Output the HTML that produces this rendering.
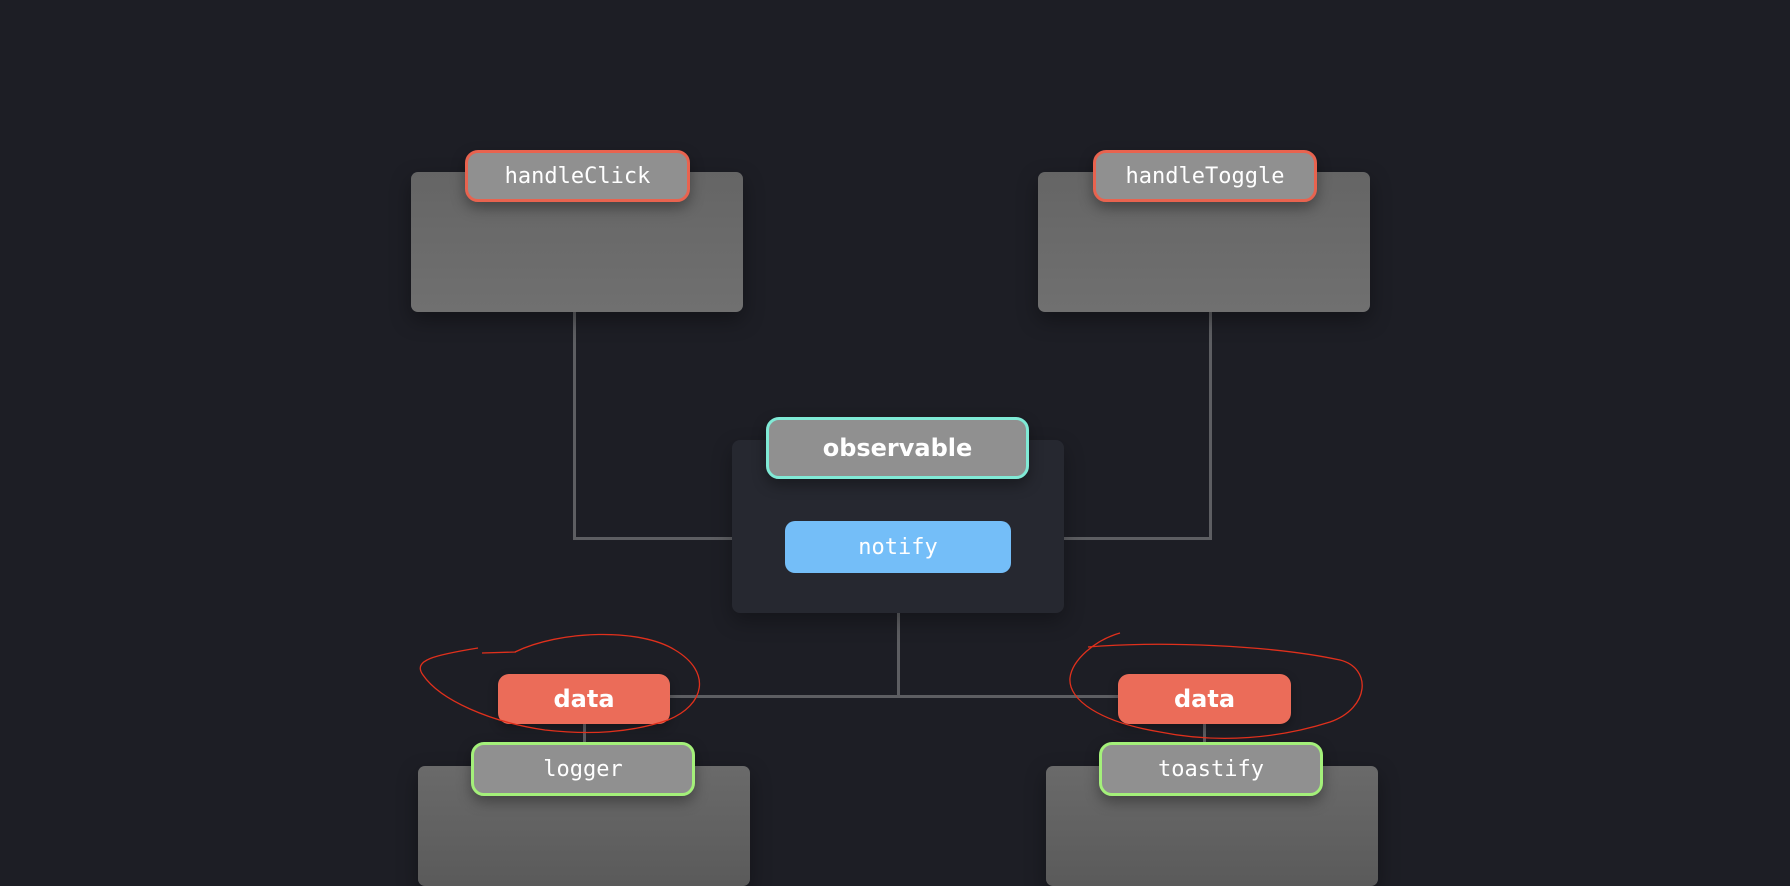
<!DOCTYPE html>
<html><head><style>
html,body{margin:0;padding:0;width:1790px;height:874px;overflow:hidden;background:#1d1e25;font-family:"Liberation Sans",sans-serif}
.a{position:absolute;box-sizing:border-box}
.box{background:linear-gradient(#656565,#707070);border-radius:7px;box-shadow:0 8px 20px rgba(0,0,0,.35)}
.pill{background:#909090;border-radius:13px;border:3px solid;display:flex;align-items:center;justify-content:center;color:#fff;font-family:"DejaVu Sans Mono","Liberation Mono",monospace;font-size:22px;box-shadow:0 6px 14px rgba(0,0,0,.35)}
.ln{background:#5d5e62}
.data{background:#eb6c59;border-radius:11px;display:flex;align-items:center;justify-content:center;color:#fff;font-family:"DejaVu Sans",sans-serif;font-weight:bold;font-size:24px;box-shadow:0 4px 10px rgba(0,0,0,.3)}
</style></head><body>
<div class="a ln" style="left:573px;top:312px;width:3px;height:228px"></div>
<div class="a ln" style="left:573px;top:537px;width:162px;height:3px"></div>
<div class="a ln" style="left:1209px;top:312px;width:3px;height:228px"></div>
<div class="a ln" style="left:1060px;top:537px;width:152px;height:3px"></div>
<div class="a ln" style="left:897px;top:610px;width:3px;height:87px"></div>
<div class="a ln" style="left:668px;top:695px;width:452px;height:3px"></div>
<div class="a ln" style="left:583px;top:722px;width:3px;height:22px"></div>
<div class="a ln" style="left:1203px;top:722px;width:3px;height:22px"></div>

<div class="a box" style="left:411px;top:172px;width:332px;height:140px"></div>
<div class="a box" style="left:1038px;top:172px;width:332px;height:140px"></div>
<div class="a box" style="left:418px;top:766px;width:332px;height:120px;background:linear-gradient(#6a6a6a,#5a5a5a)"></div>
<div class="a box" style="left:1046px;top:766px;width:332px;height:120px;background:linear-gradient(#6a6a6a,#5a5a5a)"></div>

<div class="a pill" style="left:465px;top:150px;width:225px;height:52px;border-color:#e8634f">handleClick</div>
<div class="a pill" style="left:1093px;top:150px;width:224px;height:52px;border-color:#e8634f">handleToggle</div>

<div class="a" style="left:732px;top:440px;width:332px;height:173px;background:#262830;border-radius:8px;box-shadow:0 8px 20px rgba(0,0,0,.3)"></div>
<div class="a pill" style="left:766px;top:417px;width:263px;height:62px;border-color:#80ead6;font-family:'DejaVu Sans',sans-serif;font-weight:bold;font-size:24px">observable</div>
<div class="a" style="left:785px;top:521px;width:226px;height:52px;background:#74bef8;border-radius:10px;display:flex;align-items:center;justify-content:center;color:#fff;font-family:'DejaVu Sans Mono',monospace;font-size:22px">notify</div>

<div class="a data" style="left:498px;top:674px;width:172px;height:50px">data</div>
<div class="a data" style="left:1118px;top:674px;width:173px;height:50px">data</div>

<div class="a pill" style="left:471px;top:742px;width:224px;height:54px;border-color:#a4f07a">logger</div>
<div class="a pill" style="left:1099px;top:742px;width:224px;height:54px;border-color:#a4f07a">toastify</div>

<svg class="a" style="left:0;top:0" width="1790" height="874">
<path d="M515 652 C560 630 640 628 675 650 C712 672 705 705 668 720 C630 733 590 735 545 730 C490 722 440 700 423 675 C412 660 435 655 478 648 M482 653 L516 652" fill="none" stroke="#e0301c" stroke-width="1.3"/>
<path d="M1088 647 C1160 641 1270 645 1340 660 C1372 668 1370 708 1330 722 C1280 738 1220 744 1160 732 C1100 722 1068 700 1070 678 C1072 660 1095 640 1120 633" fill="none" stroke="#e0301c" stroke-width="1.3"/>
</svg>
</body></html>
